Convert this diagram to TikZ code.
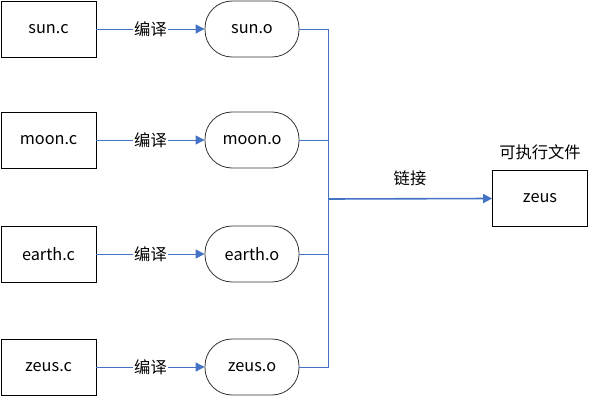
\documentclass[tikz,border=0pt]{standalone}
\usepackage{fontspec}
\setmainfont{Noto Sans CJK SC}
\usetikzlibrary{arrows.meta}
\definecolor{lineblue}{HTML}{4472C4}
\begin{document}
\begin{tikzpicture}[x=1pt,y=-1pt,
  txt/.style={font=\fontsize{16.3}{19}\selectfont},
  src/.style={txt, draw=black, line width=0.9pt, minimum width=95pt, minimum height=56pt, inner sep=0pt},
  obj/.style={txt, draw=black!80, line width=0.8pt, rounded corners=27pt, minimum width=94pt, minimum height=56pt, inner sep=0pt},
  conn/.style={draw=lineblue, line width=0.9pt, -{Triangle[length=9pt,width=9pt]}},
  busline/.style={draw=lineblue, line width=0.9pt},
  mainconn/.style={draw=lineblue, line width=1.6pt, -{Triangle[length=9pt,width=9pt]}},
  lbl/.style={txt, fill=white, inner sep=1pt}]
\useasboundingbox (0,0) rectangle (589,396);
\node[src] (sunc) at (48.5,29) {sun.c};
\node[src] (moonc) at (48.5,140) {moon.c};
\node[src] (earthc) at (48.5,254) {earth.c};
\node[src] (zeusc) at (48.5,367) {zeus.c};
\node[obj] (suno) at (252,29) {sun.o};
\node[obj] (moono) at (252,140) {moon.o};
\node[obj] (eartho) at (252,254) {earth.o};
\node[obj] (zeuso) at (252,367) {zeus.o};
\foreach \a/\b in {sunc/suno,moonc/moono,earthc/eartho,zeusc/zeuso}
  \draw[conn] (\a) -- node[lbl] {编译} (\b);
\coordinate (bustop) at (328,29);
\coordinate (busbot) at (328,367);
\coordinate (bus) at (328,199);
\draw[busline] (suno.east) -- (bustop) -- (busbot) -- (zeuso.east);
\draw[busline] (moono.east) -- (moono.east -| bustop);
\draw[busline] (eartho.east) -- (eartho.east -| bustop);
\node[src, line width=0.8pt] (zeus) at (540,198.5) {zeus};
\node[txt] (exe) at (540,152) {可执行文件};
\draw[mainconn] (bus) -- (zeus.west);
\node[txt] (link) at (410,178) {链接};
\end{tikzpicture}
\end{document}
